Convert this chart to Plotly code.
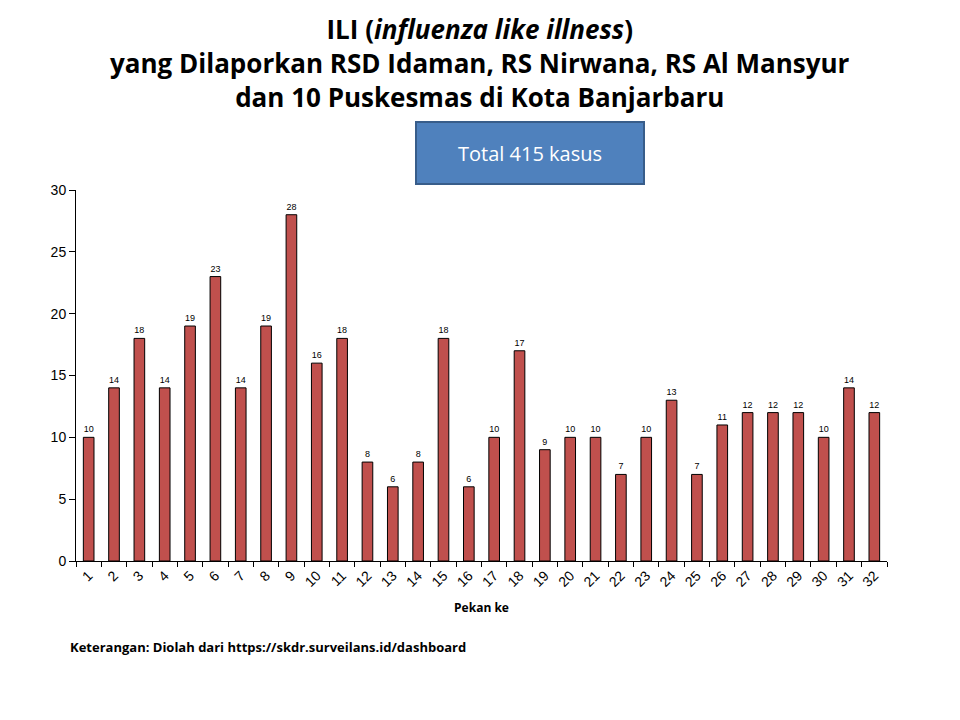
import plotly.graph_objects as go

# Data: kasus ILI per pekan
pekan = [str(i) for i in range(1, 33)]
kasus = [10, 14, 18, 14, 19, 23, 14, 19, 28, 16, 18, 8, 6, 8, 18, 6,
         10, 17, 9, 10, 10, 7, 10, 13, 7, 11, 12, 12, 12, 10, 14, 12]
y_ticks = [0, 5, 10, 15, 20, 25, 30]

judul = ("<b>ILI (<i>influenza like illness</i>)<br>"
         "yang Dilaporkan RSD Idaman, RS Nirwana, RS Al Mansyur<br>"
         "dan 10 Puskesmas di Kota Banjarbaru</b>")

# page has 8px body margin, so figure is 944x704 and plot area in figure pixels
W, H = 944, 704
L, R, T, B = 68, 65, 182, 151
pw, ph = W - L - R, H - T - B


def px(x):
    return (x - L) / pw


def py(y):
    return (H - B - y) / ph


fig = go.Figure()
fig.add_trace(go.Bar(
    x=pekan, y=kasus,
    text=[str(v) for v in kasus], textposition="outside",
    textfont=dict(family="Liberation Sans", size=9, color="black"),
    marker=dict(color="#C0504D", line=dict(color="black", width=1)),
    cliponaxis=False,
))

fig.update_layout(
    width=W, height=H,
    paper_bgcolor="white", plot_bgcolor="white",
    margin=dict(l=L, r=R, t=T, b=B, autoexpand=False),
    bargap=0.58,
    showlegend=False,
    font=dict(family="Liberation Sans", color="black"),
)

fig.update_xaxes(
    type="category", showline=True, linecolor="black", linewidth=1,
    ticks="outside", tickson="boundaries", ticklen=5, tickcolor="black",
    tickangle=-45, tickfont=dict(family="Liberation Sans", size=14, color="black"),
    title=dict(text="<b>Pekan ke</b>", font=dict(family="Open Sans", size=12, color="black"),
               standoff=14),
)
fig.update_yaxes(
    range=[0, 30], tickvals=y_ticks, showline=True, linecolor="black", linewidth=1,
    ticks="outside", ticklen=6, tickcolor="black", showgrid=False, zeroline=False,
    tickfont=dict(family="Liberation Sans", size=14, color="black"),
)

# judul
fig.add_annotation(
    x=px(472), y=py(1), xref="paper", yref="paper", showarrow=False,
    xanchor="center", yanchor="top", align="center", text=judul,
    font=dict(family="Open Sans", size=26, color="black"),
)

# kotak total
fig.add_annotation(
    x=px(522), y=py(177), xref="paper", yref="paper", xanchor="center", yanchor="bottom",
    text="Total 415 kasus", showarrow=False,
    font=dict(family="Open Sans", size=20, color="white"),
    bgcolor="#4F81BD", bordercolor="#385D8A", borderwidth=2,
    width=224, height=58,
)

# keterangan sumber
fig.add_annotation(
    x=px(60), y=py(639), xref="paper", yref="paper", showarrow=False,
    text="<b>Keterangan: Diolah dari https://skdr.surveilans.id/dashboard</b>",
    font=dict(family="Open Sans", size=13, color="black"),
    xanchor="left", yanchor="middle",
)

fig.write_html("out.html")
